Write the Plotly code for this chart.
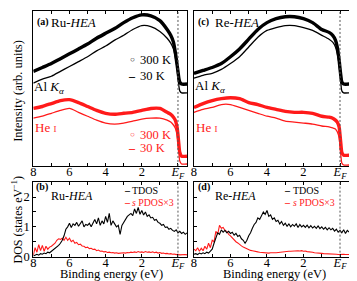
import plotly.graph_objects as go

W, H = 357, 281
SERIF = "Liberation Serif"
RED = "#ff1a1a"

# ---------------- data ----------------
# photoemission spectra (binding energy, eV) and intensities (arb. units)
E_SPEC = [8.0, 7.5, 7.0, 6.5, 6.0, 5.5, 5.0, 4.5, 4.0, 3.5,
          3.0, 2.5, 2.0, 1.5, 1.0, 0.6, 0.4, 0.25, 0.15, 0.05,
          0.0, -0.05, -0.1, -0.2, -0.5]

RU_AL_300K = [97, 101, 105, 110, 115, 120, 125, 131, 136, 141,
              147, 152, 155, 154, 149, 140, 134, 127, 117, 104,
              97, 90, 86, 84, 84]
RU_AL_30K = [85, 89, 92, 97, 102, 107, 112, 118, 123, 129,
             134, 140, 144, 143, 138, 131, 126, 120, 112, 100,
             90, 82, 77, 75, 75]
RU_HE_300K = [59, 61, 64, 67, 68, 65, 61, 57, 54, 53,
              54, 55, 57, 59, 59, 55, 53, 50, 47, 40,
              32, 22, 14, 10, 10]
RU_HE_30K = [49, 51, 54, 57, 59, 55, 51, 47, 44, 43,
             44, 46, 48, 49, 49, 47, 45, 42, 39, 32,
             24, 14, 5, 2, 2]
RE_AL_300K = [95, 98, 101, 105, 112, 120, 130, 140, 147, 151,
              153, 153, 151, 147, 140, 137, 134, 129, 122, 109,
              100, 92, 86, 84, 84]
RE_AL_30K = [90, 93, 95, 99, 105, 112, 122, 132, 139, 142,
             144, 144, 142, 139, 134, 130, 127, 122, 115, 104,
             94, 84, 77, 75, 75]
RE_HE_300K = [60, 64, 67, 69, 70, 69, 65, 63, 60, 58,
              56, 55, 55, 54, 51, 50, 49, 47, 45, 40,
              32, 22, 14, 11, 11]
RE_HE_30K = [55, 58, 60, 63, 63, 60, 57, 54, 51, 49,
             46, 45, 44, 43, 41, 40, 39, 38, 35, 29,
             20, 10, 3, 1, 1]

# density of states (states/eV) on a 0.1 eV grid
E_DOS = [8.0, 7.9, 7.8, 7.7, 7.6, 7.5, 7.4, 7.3, 7.2, 7.1,
         7.0, 6.9, 6.8, 6.7, 6.6, 6.5, 6.4, 6.3, 6.2, 6.1,
         6.0, 5.9, 5.8, 5.7, 5.6, 5.5, 5.4, 5.3, 5.2, 5.1,
         5.0, 4.9, 4.8, 4.7, 4.6, 4.5, 4.4, 4.3, 4.2, 4.1,
         4.0, 3.9, 3.8, 3.7, 3.6, 3.5, 3.4, 3.3, 3.2, 3.1,
         3.0, 2.9, 2.8, 2.7, 2.6, 2.5, 2.4, 2.3, 2.2, 2.1,
         2.0, 1.9, 1.8, 1.7, 1.6, 1.5, 1.4, 1.3, 1.2, 1.1,
         1.0, 0.9, 0.8, 0.7, 0.6, 0.5, 0.4, 0.3, 0.2, 0.1,
         0.0, -0.1, -0.2, -0.3, -0.4, -0.5]

RU_TDOS = [0.02, 0.05, 0.08, 0.05, 0.10, 0.08, 0.12, 0.10, 0.15, 0.13,
           0.18, 0.20, 0.25, 0.30, 0.38, 0.45, 0.55, 0.70, 0.92, 1.00,
           1.12, 0.98, 1.10, 1.05, 1.15, 1.02, 1.10, 1.20, 1.00, 1.08,
           1.05, 1.12, 1.00, 1.15, 1.25, 1.10, 1.30, 1.05, 1.20, 1.10,
           1.35, 1.15, 1.45, 1.05, 1.20, 1.10, 1.00, 1.05, 0.75, 1.05,
           1.15, 1.25, 1.35, 1.40, 1.45, 1.38, 1.60, 1.45, 1.65, 1.42,
           1.55, 1.40, 1.50, 1.35, 1.40, 1.30, 1.32, 1.22, 1.25, 1.15,
           1.12, 1.05, 1.08, 0.98, 1.00, 0.92, 0.95, 0.88, 0.85, 0.90,
           0.80, 0.85, 0.78, 0.82, 0.75, 0.80]
RU_SPDOS3 = [0.05, 0.30, 0.15, 0.40, 0.20, 0.38, 0.18, 0.35, 0.25, 0.32,
             0.35, 0.40, 0.45, 0.55, 0.60, 0.58, 0.62, 0.55, 0.65, 0.55,
             0.62, 0.50, 0.55, 0.45, 0.48, 0.40, 0.42, 0.36, 0.35, 0.30,
             0.32, 0.27, 0.28, 0.24, 0.25, 0.20, 0.22, 0.18, 0.19, 0.16,
             0.17, 0.14, 0.15, 0.13, 0.14, 0.12, 0.13, 0.11, 0.12, 0.12,
             0.13, 0.12, 0.14, 0.13, 0.15, 0.14, 0.16, 0.14, 0.17, 0.15,
             0.16, 0.14, 0.17, 0.15, 0.16, 0.14, 0.16, 0.13, 0.15, 0.12,
             0.14, 0.11, 0.12, 0.10, 0.11, 0.09, 0.10, 0.08, 0.09, 0.07,
             0.08, 0.06, 0.07, 0.06, 0.07, 0.06]
RE_TDOS = [0.08, 0.10, 0.07, 0.12, 0.09, 0.13, 0.10, 0.15, 0.12, 0.18,
           0.25, 0.45, 0.65, 0.80, 0.75, 0.90, 0.82, 0.88, 0.80, 0.85,
           0.78, 0.82, 0.72, 0.78, 0.68, 0.72, 0.60, 0.55, 0.45, 0.55,
           0.70, 0.80, 0.95, 1.08, 1.15, 1.30, 1.25, 1.40, 1.50, 1.42,
           1.55, 1.35, 1.40, 1.25, 1.30, 1.18, 1.22, 1.10, 1.18, 1.05,
           1.12, 1.02, 1.10, 1.00, 1.08, 1.02, 1.10, 0.98, 1.08, 1.00,
           1.05, 0.98, 1.06, 0.97, 1.04, 0.96, 1.02, 0.95, 1.03, 0.94,
           1.00, 0.92, 0.98, 0.90, 0.97, 0.90, 0.95, 0.86, 0.92, 0.82,
           0.88, 0.80, 0.90, 0.78, 0.88, 0.82]
RE_SPDOS3 = [0.25, 0.20, 0.30, 0.18, 0.28, 0.20, 0.35, 0.25, 0.45, 0.30,
             0.55, 0.50, 0.85, 0.75, 1.05, 0.95, 0.98, 0.88, 0.85, 0.75,
             0.70, 0.62, 0.58, 0.50, 0.46, 0.40, 0.36, 0.32, 0.29, 0.26,
             0.24, 0.21, 0.20, 0.18, 0.17, 0.16, 0.15, 0.14, 0.14, 0.13,
             0.13, 0.12, 0.13, 0.12, 0.13, 0.13, 0.14, 0.14, 0.15, 0.15,
             0.16, 0.17, 0.18, 0.18, 0.19, 0.20, 0.19, 0.20, 0.19, 0.20,
             0.18, 0.19, 0.17, 0.17, 0.15, 0.15, 0.13, 0.13, 0.12, 0.11,
             0.11, 0.10, 0.10, 0.09, 0.09, 0.08, 0.08, 0.08, 0.08, 0.07,
             0.08, 0.07, 0.08, 0.07, 0.08, 0.07]

X_TICKVALS = [8, 6, 4, 2, 0]
X_TICKTEXT = ["8", "6", "4", "2", "<i>E</i><sub><i>F</i></sub>"]
X_MINOR = [7, 5, 3, 1]
DOS_TICKVALS = [0, 1, 2]
DOS_TICKTEXT = ["0", "1", "2"]
DOS_MINOR = [0.5, 1.5]

# ---------------- figure ----------------
fig = go.Figure()

def line(x, y, xa, ya, color, width):
    fig.add_trace(go.Scatter(x=x, y=y, xaxis=xa, yaxis=ya, mode="lines",
                             line=dict(color=color, width=width, shape="spline", smoothing=0.6),
                             showlegend=False, hoverinfo="skip"))

def noisy(x, y, xa, ya, color):
    fig.add_trace(go.Scatter(x=x, y=y, xaxis=xa, yaxis=ya, mode="lines",
                             line=dict(color=color, width=1.1),
                             showlegend=False, hoverinfo="skip"))

# (a) Ru-HEA spectra
line(E_SPEC, RU_AL_300K, "x", "y", "black", 3.4)
line(E_SPEC, RU_AL_30K, "x", "y", "black", 1.3)
line(E_SPEC, RU_HE_300K, "x", "y", RED, 3.4)
line(E_SPEC, RU_HE_30K, "x", "y", RED, 1.3)
# (c) Re-HEA spectra
line(E_SPEC, RE_AL_300K, "x2", "y2", "black", 3.4)
line(E_SPEC, RE_AL_30K, "x2", "y2", "black", 1.3)
line(E_SPEC, RE_HE_300K, "x2", "y2", RED, 3.4)
line(E_SPEC, RE_HE_30K, "x2", "y2", RED, 1.3)
# (b) Ru-HEA DOS
noisy(E_DOS, RU_SPDOS3, "x3", "y3", RED)
noisy(E_DOS, RU_TDOS, "x3", "y3", "black")
# (d) Re-HEA DOS
noisy(E_DOS, RE_SPDOS3, "x4", "y4", RED)
noisy(E_DOS, RE_TDOS, "x4", "y4", "black")

def px_x(x):
    return x / W

def px_y(y):
    return 1 - y / H

XA = (22.5, 177.5)
XC = (184.5, 341)
YTOP = (162, 3)
YBOT = (255, 178)

TICKSTYLE = dict(ticks="inside", ticklen=3, tickwidth=1, tickcolor="black")

def xaxis(dom):
    return dict(domain=[px_x(dom[0]), px_x(dom[1])], range=[8, -0.5],
                tickvals=X_TICKVALS, ticktext=X_TICKTEXT,
                minor=dict(tickvals=X_MINOR, **TICKSTYLE), **TICKSTYLE,
                showline=True, linecolor="black",
                linewidth=1, mirror="ticks", showgrid=False, zeroline=False,
                tickfont=dict(family=SERIF, size=12.5, color="black"),
                ticklabelstandoff=-6)

def yaxis_top(dom, anchor):
    return dict(domain=[px_y(dom[0]), px_y(dom[1])], range=[0, 159], anchor=anchor,
                showticklabels=False, ticks="", showline=True, linecolor="black",
                linewidth=1, mirror=True, showgrid=False, zeroline=False)

def yaxis_bot(dom, anchor, labels=True):
    return dict(domain=[px_y(dom[0]), px_y(dom[1])], range=[0, 2.52], anchor=anchor,
                tickvals=DOS_TICKVALS, ticktext=DOS_TICKTEXT,
                minor=dict(tickvals=DOS_MINOR, **TICKSTYLE), **TICKSTYLE,
                showline=True, linecolor="black", linewidth=1,
                mirror=True, showgrid=False, zeroline=False, showticklabels=labels,
                tickfont=dict(family=SERIF, size=12.5, color="black"))

def yaxis_right(overlay, anchor):
    return dict(overlaying=overlay, anchor=anchor, side="right", range=[0, 2.52],
                tickvals=DOS_TICKVALS, minor=dict(tickvals=DOS_MINOR, **TICKSTYLE),
                **TICKSTYLE, showticklabels=False, showline=False, showgrid=False,
                zeroline=False)

xa = xaxis(XA); xa["anchor"] = "y"
xc = xaxis(XC); xc["anchor"] = "y2"
xb = xaxis(XA); xb["anchor"] = "y3"
xd = xaxis(XC); xd["anchor"] = "y4"

shapes = []
for xr, yr in [("x", "y"), ("x2", "y2"), ("x3", "y3"), ("x4", "y4")]:
    shapes.append(dict(type="line", xref=xr, yref=yr + " domain", x0=0, x1=0, y0=0, y1=1,
                       line=dict(color="#555555", width=1, dash="2px,2px"), layer="above"))

def ann(text, x, y, size, color="black", xanchor="left", angle=0, yanchor="middle"):
    return dict(text=text, x=px_x(x), y=px_y(y), xref="paper", yref="paper",
                showarrow=False, xanchor=xanchor, yanchor=yanchor, textangle=angle,
                borderpad=0, font=dict(family=SERIF, size=size, color=color))

annotations = [
    # panel (a)
    ann("<b>(a)</b>", 25.5, 14, 10),
    ann("Ru-<i>HEA</i>", 39, 15, 13),
    ann("○", 123, 53, 8, xanchor="center"),
    ann("300 K", 129, 53, 12.5),
    ann("<b>–</b>", 122, 70, 12, xanchor="center"),
    ann("30 K", 129, 70, 12.5),
    ann("Al <i>K</i><sub><i>α</i></sub>", 22.5, 82, 13),
    ann("He <span style='font-size:9px'>I</span>", 23.5, 123, 13, RED),
    ann("○", 123, 130, 8, RED, xanchor="center"),
    ann("300 K", 129, 130, 12.5, RED),
    ann("<b>–</b>", 122, 144, 12, RED, xanchor="center"),
    ann("30 K", 129, 144, 12.5, RED),
    # panel (c)
    ann("<b>(c)</b>", 188, 14, 10),
    ann("Re-<i>HEA</i>", 205, 15, 13),
    ann("Al <i>K</i><sub><i>α</i></sub>", 184.5, 81, 13),
    ann("He <span style='font-size:9px'>I</span>", 186, 123, 13, RED),
    # panel (b)
    ann("<b>(b)</b>", 24.5, 184, 10),
    ann("Ru-<i>HEA</i>", 39, 193, 12),
    ann("<b>–</b>", 117, 187, 10, xanchor="center"),
    ann("TDOS", 121, 187, 10),
    ann("<b>–</b>", 117, 199, 10, RED, xanchor="center"),
    ann("<i>s</i> PDOS×3", 121, 199, 9.8, RED),
    # panel (d)
    ann("<b>(d)</b>", 187.5, 184, 10),
    ann("Re-<i>HEA</i>", 205, 193, 12),
    ann("<b>–</b>", 279, 187, 10, xanchor="center"),
    ann("TDOS", 283, 187, 10),
    ann("<b>–</b>", 279, 199, 10, RED, xanchor="center"),
    ann("<i>s</i> PDOS×3", 283, 199, 9.8, RED),
    # axis titles
    ann("Intensity (arb. units)", 7, 85, 12.5, xanchor="center", angle=-90),
    ann("DOS (states eV<sup>−1</sup>)", 7, 217, 12, xanchor="center", angle=-90),
    ann("Binding energy (eV)", 101, 281, 12.5, xanchor="center", yanchor="bottom"),
    ann("Binding energy (eV)", 266, 281, 12.5, xanchor="center", yanchor="bottom"),
]

fig.update_layout(
    width=W, height=H, margin=dict(l=0, r=0, t=0, b=0),
    paper_bgcolor="white", plot_bgcolor="white", showlegend=False,
    xaxis=xa, xaxis2=xc, xaxis3=xb, xaxis4=xd,
    yaxis=yaxis_top(YTOP, "x"), yaxis2=yaxis_top(YTOP, "x2"),
    yaxis3=yaxis_bot(YBOT, "x3"), yaxis4=yaxis_bot(YBOT, "x4", labels=False),
    yaxis5=yaxis_right("y3", "x3"), yaxis6=yaxis_right("y4", "x4"),
    shapes=shapes, annotations=annotations,
    font=dict(family=SERIF, color="black"),
)

fig.write_html("out.html")
